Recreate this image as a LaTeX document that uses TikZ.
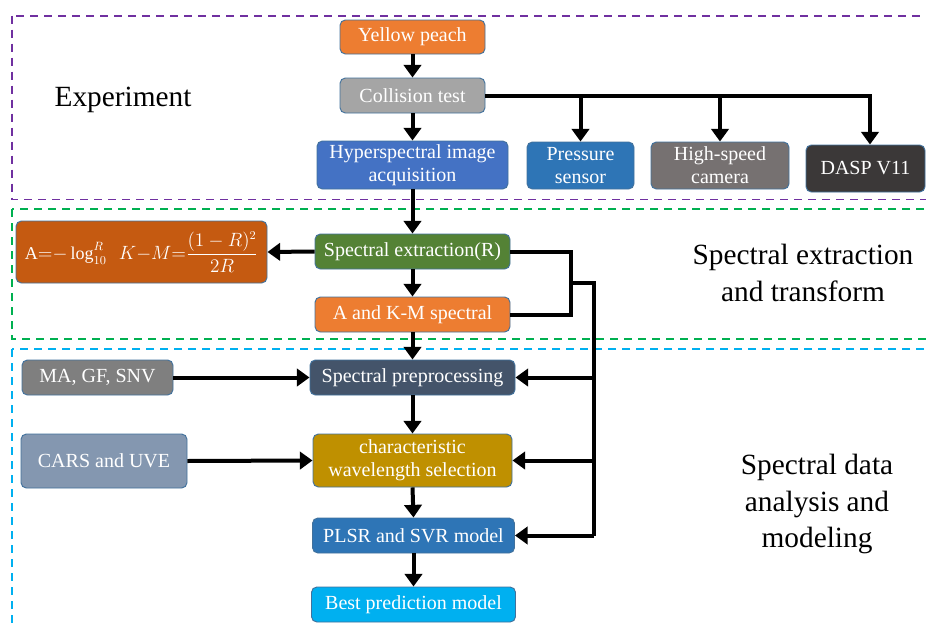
\documentclass[tikz,border=0pt]{standalone}
\usepackage{fontspec}
\setmainfont{Liberation Serif}
\usetikzlibrary{arrows.meta}
\definecolor{cOrange}{HTML}{ED7D31}
\definecolor{cGray}{HTML}{A5A5A5}
\definecolor{cBlue}{HTML}{4472C4}
\definecolor{cBlueB}{HTML}{2E75B6}
\definecolor{cCam}{HTML}{767171}
\definecolor{cDasp}{HTML}{3B3838}
\definecolor{cGreen}{HTML}{548235}
\definecolor{cForm}{HTML}{C55A11}
\definecolor{cPrep}{HTML}{44546A}
\definecolor{cMA}{HTML}{7F7F7F}
\definecolor{cChar}{HTML}{BF9000}
\definecolor{cCars}{HTML}{8497B0}
\definecolor{cBest}{HTML}{00B0F0}
\definecolor{cBorder}{HTML}{41719C}
\definecolor{dPurple}{HTML}{7030A0}
\definecolor{dGreen}{HTML}{00B050}
\definecolor{dCyan}{HTML}{00B0F0}
\tikzset{
  box/.style={rounded corners=4pt, draw=cBorder, line width=0.7pt, text=white,
    font=\fontsize{15}{17.25}\selectfont, inner sep=0pt, align=center},
  region/.style={dash pattern=on 6pt off 4.5pt, line width=1.4pt},
  conn/.style={line width=3pt, black},
  arr/.style={conn, -{Triangle[length=9.5pt,width=13pt]}},
  label/.style={font=\fontsize{22}{27.5}\selectfont, align=center, text=black}
}
\begin{document}
\begin{tikzpicture}[x=0.75pt,y=-0.75pt]
\useasboundingbox (0,0) rectangle (926,625);
\clip (0,0) rectangle (926,625);
% regions
\draw[region, dPurple] (12,15.7) rectangle (940,199.5);
\draw[region, dGreen] (12,209) rectangle (940,339);
\draw[region, dCyan] (12,349) rectangle (940,640);
% labels
\node[label] (lexp) at (123,100) {Experiment};
\node[label] (lspx) at (803,273) {Spectral extraction\\and transform};
\node[label] (lsda) at (817,504) {Spectral data\\analysis and\\modeling};
% nodes
\node[box, fill=cOrange, minimum width=108.75pt, minimum height=25.5pt] (yp) at (412.5,37) {Yellow peach};
\node[box, fill=cGray, minimum width=108.75pt, minimum height=26.25pt] (ct) at (412.5,95.5) {Collision test};
\node[box, fill=cBlue, minimum width=143.25pt, minimum height=36pt] (hy) at (412.5,165) {Hyperspectral image\\acquisition};
\node[box, fill=cBlueB, minimum width=80.25pt, minimum height=35.25pt] (ps) at (580.5,165.5) {Pressure\\sensor};
\node[box, fill=cCam, minimum width=103.5pt, minimum height=35.25pt] (hc) at (720,165.5) {High-speed\\camera};
\node[box, fill=cDasp, minimum width=89.25pt, minimum height=35.25pt] (da) at (865.5,168.5) {DASP V11};
\node[box, fill=cGreen, minimum width=146.25pt, minimum height=26.25pt] (sx) at (412.5,251.5) {Spectral extraction(R)};
\node[box, fill=cForm, minimum width=188.25pt, minimum height=46.5pt, font=\fontsize{13.5}{16}\selectfont] (fm) at (141.5,252)
  {$\mathrm{A}{=}{-}\log_{10}^{R}\enspace K{-}M{=}\displaystyle\frac{(1-R)^{2}}{2R}$};
\node[box, fill=cOrange, minimum width=146.25pt, minimum height=26.25pt] (ak) at (412.5,314.5) {A and K-M spectral};
\node[box, fill=cPrep, minimum width=153.75pt, minimum height=26.25pt] (pp) at (412.5,377.5) {Spectral preprocessing};
\node[box, fill=cMA, minimum width=113.25pt, minimum height=26.25pt] (ma) at (97.5,377.5) {MA, GF, SNV};
\node[box, fill=cChar, minimum width=149.25pt, minimum height=39.75pt] (cw) at (412.5,460.5) {characteristic\\wavelength selection};
\node[box, fill=cCars, minimum width=124.5pt, minimum height=40.5pt] (cu) at (104,461) {CARS and UVE};
\node[box, fill=cBlueB, minimum width=151.5pt, minimum height=26.25pt] (pl) at (413.5,535.5) {PLSR and SVR model};
\node[box, fill=cBest, minimum width=153pt, minimum height=26.25pt] (bp) at (413.5,604.5) {Best prediction model};
% main flow
\draw[arr] (yp.south) -- (ct.north);
\draw[arr] (ct.south) -- (hy.north);
\draw[arr] (hy.south) -- (sx.north);
\draw[arr] (sx.south) -- (ak.north);
\draw[arr] (ak.south) -- (pp.north);
\draw[arr] (pp.south) -- (cw.north);
\draw[arr] (cw.south) -- (pl.north);
\draw[arr] (pl.south) -- (bp.north);
% collision bus
\coordinate (busend) at (870,95.5);
\draw[conn, line join=miter] (ct.east) -- (busend) -- (870,101);
\draw[arr] (ct.east -| ps.north) -- (ps.north);
\draw[arr] (ct.east -| hc.north) -- (hc.north);
\draw[arr] (busend) -- (busend |- da.north);
% formula
\draw[arr] (sx.west) -- (fm.east);
% side inputs
\draw[arr] (ma.east) -- (pp.west);
\draw[arr] (cu.east) -- (cw.west);
% right bus
\coordinate (b1) at (571,283);
\coordinate (b2) at (594,283);
\draw[conn, line join=miter] (sx.east) -- (sx.east -| b1) -- (ak.east -| b1) -- (ak.east);
\draw[conn, line join=miter] (b1) -- (b2) -- (b2 |- pl.east);
\draw[arr] (b2 |- pp.east) -- (pp.east);
\draw[arr] (b2 |- cw.east) -- (cw.east);
\draw[arr] (b2 |- pl.east) -- (pl.east);
\end{tikzpicture}
\end{document}
